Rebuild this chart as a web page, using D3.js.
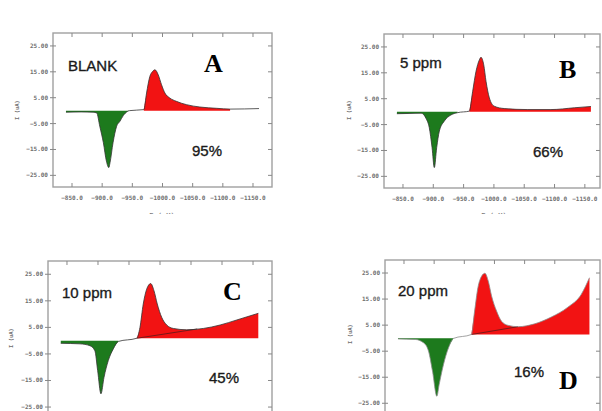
<!DOCTYPE html>
<html><head><meta charset="utf-8">
<script src="https://cdn.jsdelivr.net/npm/d3@7/dist/d3.min.js"></script>
<style>html,body{margin:0;padding:0;background:#fff;}svg{display:block;}</style>
</head><body>
<svg id="c" width="602" height="411"></svg>
<script>
// ---------- data ----------
const xTicks = [-850, -900, -950, -1000, -1050, -1100, -1150];
const yTicks = [25, 15, 5, -5, -15, -25];
const panelLetters = ["A", "B", "C", "D"];
const sampleLabels = ["BLANK", "5 ppm", "10 ppm", "20 ppm"];
const efficiencies = ["95%", "66%", "45%", "16%"];

const potentialA = [-840,-865,-885,-891,-896,-902,-907,-911,-913,-918,-924,-929.5,-935,-942,-945,-969,-973.6,-979,-983.5,-987.4,-993,-998.4,-1004,-1012,-1023,-1040,-1062,-1090,-1112,-1160];
const currentA   = [-0.6,-0.5,-0.6,-0.9,-6,-12.4,-19.5,-22,-20.1,-12.4,-6,-4.1,-1.9,-0.3,0,0.4,6.8,13.2,15.1,15.8,13.8,10,6.8,4.9,3.6,2.3,1.4,0.9,0.6,0.8];

const potentialB = [-840,-860,-880,-888,-893.4,-898,-901.7,-905.6,-910,-918,-929,-940,-959.4,-965,-970.5,-976,-978.7,-983.2,-987,-992.5,-1000.7,-1017,-1056,-1094,-1133,-1160];
const currentB   = [-0.8,-0.7,-0.6,-2.6,-6.2,-13.9,-21.6,-13.9,-7.5,-3.7,-1.3,-0.4,0.2,7.9,15.6,20,21,18.1,11.7,5.3,2.1,1.2,0.8,0.8,1.5,2.0];

const potentialC = [-840,-871,-887,-895,-899.5,-904.8,-909.7,-916.6,-924.7,-932.8,-962.4,-967.7,-973,-978.5,-985,-990.3,-995.6,-1002.7,-1010.8,-1021.5,-1043,-1070,-1097,-1124,-1158.5];
const currentC   = [-1.0,-1.2,-1.9,-3.8,-11.3,-20,-13.8,-7.5,-3.1,-0.3,0.9,5,13.8,19.4,21.5,18.8,13.8,8.8,5.9,4.6,4.1,4.6,5.9,7.8,10.3];

const potentialD = [-840,-869,-882.5,-890.7,-897.3,-904.5,-908.3,-915.5,-923.8,-932,-961.7,-967.1,-972.6,-978.7,-984.2,-989.7,-995.2,-1003.5,-1011.7,-1022.8,-1039.3,-1066.7,-1094.2,-1121.8,-1143.9,-1157.5];
const currentD   = [-0.3,-0.5,-1.8,-5,-12.7,-22.3,-17.8,-10.1,-3.7,-0.1,1.4,10.4,19.4,23.8,24.9,21.9,16.2,10.4,6.5,4.9,4.4,5.5,8.1,11.9,16.8,23.2];

const greenRanges = [[-840,-945],[-840,-940],[-840,-932.8],[-840,-932]];
const redRanges   = [[-969,-1112],[-959.4,-1160],[-962.4,-1158.5],[-961.7,-1157.5]];
const redBase     = [0, 0, 0.9, 1.4];

const baselinePotC = [-962.4, -1060];
const baselineCurC = [0.9, 4.4];
const baselinePotD = [-961.7, -1039];
const baselineCurD = [1.4, 4.4];

// ---------- layout ----------
const layout = [
  {x0:53,  x1:272, y0:33,  y1:187, e0:-818.5, e1:-1181.5, lab:[68,71],  let:[204,72],  eff:[192,156], yl:[19,110], xl:[162,218], xlab:true},
  {x0:384, x1:600, y0:34,  y1:188, e0:-818.7, e1:-1175,   lab:[400,68], let:[559,78],  eff:[533,157], yl:[351,110], xl:[494,218], xlab:true},
  {x0:48,  x1:272, y0:261, y1:419, e0:-819.4, e1:-1180.6, lab:[62,298], let:[223,300], eff:[209,383], yl:[13,338], xl:null, xlab:false},
  {x0:385, x1:600, y0:260, y1:415, e0:-818.5, e1:-1175,   lab:[398,296],let:[559,389], eff:[514,377], yl:[352,334], xl:null, xlab:false}
];
const series = [
  {p:potentialA, c:currentA, bp:null, bc:null},
  {p:potentialB, c:currentB, bp:null, bc:null},
  {p:potentialC, c:currentC, bp:baselinePotC, bc:baselineCurC},
  {p:potentialD, c:currentD, bp:baselinePotD, bc:baselineCurD}
];

const svg = d3.select("#c");
const defs = svg.append("defs");
defs.append("clipPath").attr("id","xlclip").append("rect").attr("x",0).attr("y",0).attr("width",602).attr("height",214);

layout.forEach((L, k) => {
  const S = series[k];
  const pts = S.p.map((e, i) => ({e, i: S.c[i]}));
  const x = d3.scaleLinear().domain([L.e0, L.e1]).range([L.x0, L.x1]);
  const y = d3.scaleLinear().domain([-29.5, 30]).range([L.y1, L.y0]);
  const g = svg.append("g");

  defs.append("clipPath").attr("id", "pc" + k).append("rect")
    .attr("x", L.x0).attr("y", L.y0).attr("width", L.x1 - L.x0).attr("height", L.y1 - L.y0);
  const plot = g.append("g").attr("clip-path", `url(#pc${k})`);

  const inRange = r => pts.filter(d => d.e <= r[0] && d.e >= r[1]);
  const gr = greenRanges[k], rr = redRanges[k];

  plot.append("path").datum(inRange(gr))
    .attr("d", d3.area().x(d => x(d.e)).y0(y(0)).y1(d => y(d.i)).curve(d3.curveMonotoneX))
    .attr("fill", "#1d7a1d");
  plot.append("path").datum(inRange(rr))
    .attr("d", d3.area().x(d => x(d.e)).y0(y(redBase[k])).y1(d => y(d.i)).curve(d3.curveMonotoneX))
    .attr("fill", "#f21313");

  if (S.bp) {
    plot.append("path").datum(S.bp.map((e, i) => ({e, i: S.bc[i]})))
      .attr("d", d3.line().x(d => x(d.e)).y(d => y(d.i)))
      .attr("fill", "none").attr("stroke", "#5a1a1a").attr("stroke-width", 0.8);
  }
  plot.append("path").datum(pts)
    .attr("d", d3.line().x(d => x(d.e)).y(d => y(d.i)).curve(d3.curveMonotoneX))
    .attr("fill", "none").attr("stroke", k === 3 ? "#8a8a8a" : "#333").attr("stroke-width", 0.8);

  // frame
  g.append("rect").attr("x", L.x0).attr("y", L.y0).attr("width", L.x1 - L.x0).attr("height", L.y1 - L.y0)
    .attr("fill", "none").attr("stroke", "#a0a0a0").attr("stroke-width", 1.4);

  // ticks
  const tk = g.append("g").attr("stroke", "#888").attr("stroke-width", 1);
  xTicks.forEach(t => {
    tk.append("line").attr("x1", x(t)).attr("x2", x(t)).attr("y1", L.y0).attr("y2", L.y0 + 4);
    tk.append("line").attr("x1", x(t)).attr("x2", x(t)).attr("y1", L.y1).attr("y2", L.y1 - 4);
  });
  yTicks.forEach(t => {
    tk.append("line").attr("x1", L.x0 - 3).attr("x2", L.x0 + 3).attr("y1", y(t)).attr("y2", y(t));
    tk.append("line").attr("x1", L.x1).attr("x2", L.x1 - 4).attr("y1", y(t)).attr("y2", y(t));
  });

  const tf = "'DejaVu Sans Mono', monospace";
  if (L.xlab) {
    xTicks.forEach(t => {
      g.append("text").attr("x", x(t)).attr("y", L.y1 + 13).attr("text-anchor", "middle")
        .attr("font-family", tf).attr("font-size", 6).attr("font-weight", "bold").attr("fill", "#707070")
        .text(d3.format(".1f")(t));
    });
  }
  yTicks.forEach(t => {
    g.append("text").attr("x", L.x0 - 5).attr("y", y(t) + 2).attr("text-anchor", "end")
      .attr("font-family", tf).attr("font-size", 6).attr("font-weight", "bold").attr("fill", "#707070")
      .text(d3.format(".2f")(t));
  });
  g.append("text").attr("transform", `translate(${L.yl[0]},${L.yl[1]}) rotate(-90)`)
    .attr("text-anchor", "middle").attr("font-family", tf).attr("font-size", 5.5).attr("font-weight", "bold")
    .attr("fill", "#707070").text("I  (uA)");
  if (L.xl) {
    g.append("text").attr("x", L.xl[0]).attr("y", L.xl[1]).attr("text-anchor", "middle")
      .attr("clip-path", "url(#xlclip)")
      .attr("font-family", tf).attr("font-size", 7).attr("font-weight", "bold").attr("fill", "#808080")
      .text("E (mV)");
  }

  g.append("text").attr("x", L.lab[0]).attr("y", L.lab[1])
    .attr("font-family", "'Liberation Sans', Arial, sans-serif").attr("font-size", 15)
    .attr("fill", "#1a1a1a").attr("stroke", "#1a1a1a").attr("stroke-width", 0.35).text(sampleLabels[k]);
  g.append("text").attr("x", L.eff[0]).attr("y", L.eff[1])
    .attr("font-family", "'Liberation Sans', Arial, sans-serif").attr("font-size", 15)
    .attr("fill", "#1a1a1a").attr("stroke", "#1a1a1a").attr("stroke-width", 0.35).text(efficiencies[k]);
  g.append("text").attr("x", L.let[0]).attr("y", L.let[1])
    .attr("font-family", "'Liberation Serif', 'Times New Roman', serif").attr("font-size", 26)
    .attr("font-weight", "bold").attr("fill", "#000").text(panelLetters[k]);
});
</script>
</body></html>
